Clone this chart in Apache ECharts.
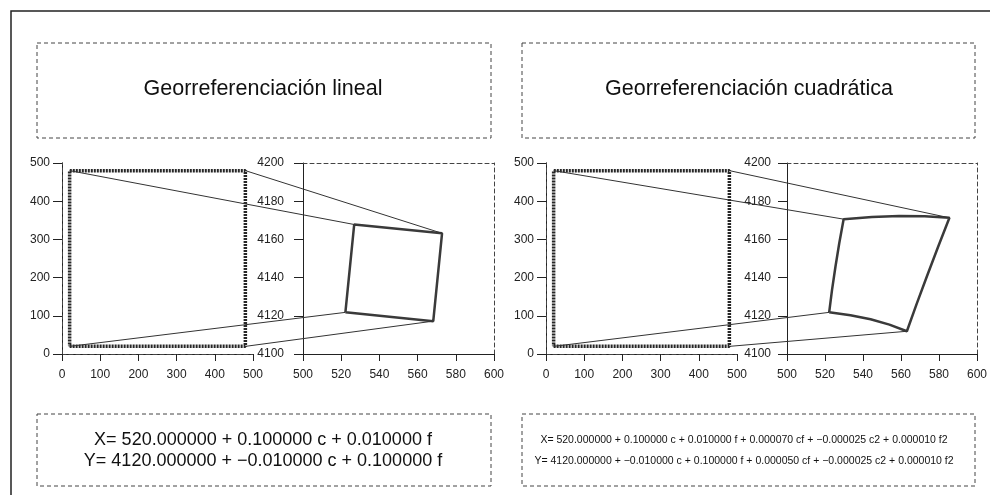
<!DOCTYPE html>
<html lang="es">
<head>
  <meta charset="UTF-8" />
  <title>Georreferenciación lineal y cuadrática</title>
  <script src="https://cdn.jsdelivr.net/npm/echarts@6/dist/echarts.min.js"></script>
  <style>
    html, body { margin: 0; padding: 0; background: #fff; }
    #chart { width: 990px; height: 495px; }
  </style>
</head>
<body>
  <div id="chart"></div>
  <script>
    // textos
    const panelTitles = ['Georreferenciación lineal', 'Georreferenciación cuadrática'];
    const formulaLinear = [
      'X= 520.000000 + 0.100000 c + 0.010000 f',
      'Y= 4120.000000 + −0.010000 c + 0.100000 f'
    ];
    const formulaQuad = [
      'X= 520.000000 + 0.100000 c + 0.010000 f + 0.000070 cf + −0.000025 c2 + 0.000010 f2',
      'Y= 4120.000000 + −0.010000 c + 0.100000 f + 0.000050 cf + −0.000025 c2 + 0.000010 f2'
    ];

    // ejes (min, max, intervalo)
    const imageAxis = [0, 500, 100];
    const worldXAxis = [500, 600, 20];
    const worldYAxis = [4100, 4200, 20];

    // imagen original (columna c, fila f), contorno cerrado
    const imageC = [20, 480, 480, 20, 20];
    const imageF = [20, 20, 480, 480, 20];

    // resultado lineal
    const linearX = [522.2, 568.2, 572.8, 526.8, 522.2];
    const linearY = [4121.8, 4117.2, 4163.2, 4167.8, 4121.8];

    // resultado cuadrático (bordes curvos)
    const quadX = [522.2, 533.4, 544.0, 553.9, 563.1, 568.3, 573.8, 579.5, 585.5,
                   572.5, 559.0, 544.7, 529.8, 527.5, 525.5, 523.7, 522.2];
    const quadY = [4121.8, 4120.3, 4118.2, 4115.4, 4111.9, 4126.4, 4141.1, 4156.0, 4171.3,
                   4172.1, 4172.2, 4171.7, 4170.6, 4158.0, 4145.7, 4133.6, 4121.8];

    const imageCorners = [0, 1, 2, 3];
    const linearCorners = [0, 1, 2, 3];
    const quadCorners = [0, 4, 8, 12];

    const FONT = '"Liberation Sans", Arial, Helvetica, sans-serif';
    const zip = (a, b) => a.map((v, i) => [v, b[i]]);

    const grids = [
      { left: 62, top: 163, width: 191, height: 191 },
      { left: 303, top: 163, width: 191, height: 191 },
      { left: 546, top: 163, width: 191, height: 191 },
      { left: 787, top: 163, width: 191, height: 191 }
    ];
    const xRanges = [imageAxis, worldXAxis, imageAxis, worldXAxis];
    const yRanges = [imageAxis, worldYAxis, imageAxis, worldYAxis];
    const yMargins = [12, 19, 12, 16];

    const solid = { show: true, lineStyle: { color: '#222', width: 1 } };
    const dashed = { show: true, lineStyle: { color: '#444', width: 1, type: [4, 3] } };
    const label = { color: '#222', fontSize: 12, fontFamily: FONT, formatter: v => String(v) };

    const xAxes = [], yAxes = [];
    xRanges.forEach((r, i) => xAxes.push({
      type: 'value', gridIndex: i, position: 'bottom', min: r[0], max: r[1], interval: r[2],
      axisLine: solid, axisTick: { show: true, length: 7, lineStyle: { color: '#222' } },
      axisLabel: Object.assign({ margin: 15 }, label), splitLine: { show: false }
    }));
    yRanges.forEach((r, i) => yAxes.push({
      type: 'value', gridIndex: i, position: 'left', min: r[0], max: r[1], interval: r[2],
      axisLine: solid, axisTick: { show: true, length: 9, lineStyle: { color: '#222' } },
      axisLabel: Object.assign({ margin: yMargins[i] }, label), splitLine: { show: false }
    }));
    // marco punteado superior y derecho
    xRanges.forEach((r, i) => xAxes.push({
      type: 'value', gridIndex: i, position: 'top', min: r[0], max: r[1],
      axisLine: dashed, axisTick: { show: false }, axisLabel: { show: false }, splitLine: { show: false }
    }));
    yRanges.forEach((r, i) => yAxes.push({
      type: 'value', gridIndex: i, position: 'right', min: r[0], max: r[1],
      axisLine: dashed, axisTick: { show: false }, axisLabel: { show: false }, splitLine: { show: false }
    }));

    const imageStyle = { color: '#262626', width: 3.5, type: [2, 1] };
    const resultStyle = { color: '#3a3a3a', width: 2.5, type: 'solid' };

    const series = [
      { type: 'line', xAxisIndex: 0, yAxisIndex: 0, data: zip(imageC, imageF), lineStyle: imageStyle },
      { type: 'line', xAxisIndex: 1, yAxisIndex: 1, data: zip(linearX, linearY), lineStyle: resultStyle },
      { type: 'line', xAxisIndex: 2, yAxisIndex: 2, data: zip(imageC, imageF), lineStyle: imageStyle },
      { type: 'line', xAxisIndex: 3, yAxisIndex: 3, data: zip(quadX, quadY), lineStyle: resultStyle }
    ].map(s => Object.assign(s, { symbol: 'none', silent: true, animation: false, clip: false }));

    // cajas y textos
    const boxStyle = { fill: 'none', stroke: '#444', lineWidth: 1, lineDash: [4, 3] };
    const boxes = [
      { x: 37, y: 43, width: 454, height: 95 },
      { x: 522, y: 43, width: 453, height: 95 },
      { x: 37, y: 414, width: 454, height: 72 },
      { x: 522, y: 414, width: 453, height: 72 }
    ];
    const graphic = [
      { type: 'polyline', shape: { points: [[11, 495], [11, 11], [990, 11]] },
        style: { stroke: '#222', lineWidth: 1.5, fill: 'none' } }
    ];
    boxes.forEach(b => graphic.push({ type: 'rect', shape: b, style: boxStyle }));
    panelTitles.forEach((t, i) => graphic.push({
      type: 'text', x: [263, 749][i], y: 89,
      style: { text: t, font: '21.5px ' + FONT, fill: '#111', textAlign: 'center', textVerticalAlign: 'middle' }
    }));
    formulaLinear.forEach((t, i) => graphic.push({
      type: 'text', x: 263, y: [440, 461][i],
      style: { text: t, font: '18px ' + FONT, fill: '#111', textAlign: 'center', textVerticalAlign: 'middle' }
    }));
    formulaQuad.forEach((t, i) => graphic.push({
      type: 'text', x: 744, y: [440, 461][i],
      style: { text: t, font: '10.5px ' + FONT, fill: '#111', textAlign: 'center', textVerticalAlign: 'middle' }
    }));

    const chart = echarts.init(document.getElementById('chart'));
    chart.setOption({
      animation: false,
      grid: grids,
      xAxis: xAxes,
      yAxis: yAxes,
      series: series,
      graphic: graphic
    });

    // líneas que unen esquinas de la imagen con las esquinas transformadas
    const links = [];
    const addLinks = (srcAxis, dstAxis, dstX, dstY, dstCorners) => {
      imageCorners.forEach((ci, k) => {
        const p1 = chart.convertToPixel({ xAxisIndex: srcAxis, yAxisIndex: srcAxis }, [imageC[ci], imageF[ci]]);
        const di = dstCorners[k];
        const p2 = chart.convertToPixel({ xAxisIndex: dstAxis, yAxisIndex: dstAxis }, [dstX[di], dstY[di]]);
        links.push({ type: 'polyline', z: 50, silent: true, shape: { points: [p1, p2] },
          style: { stroke: '#333', lineWidth: 1, fill: 'none' } });
      });
    };
    addLinks(0, 1, linearX, linearY, linearCorners);
    addLinks(2, 3, quadX, quadY, quadCorners);
    chart.setOption({ graphic: graphic.concat(links) });
  </script>
</body>
</html>
